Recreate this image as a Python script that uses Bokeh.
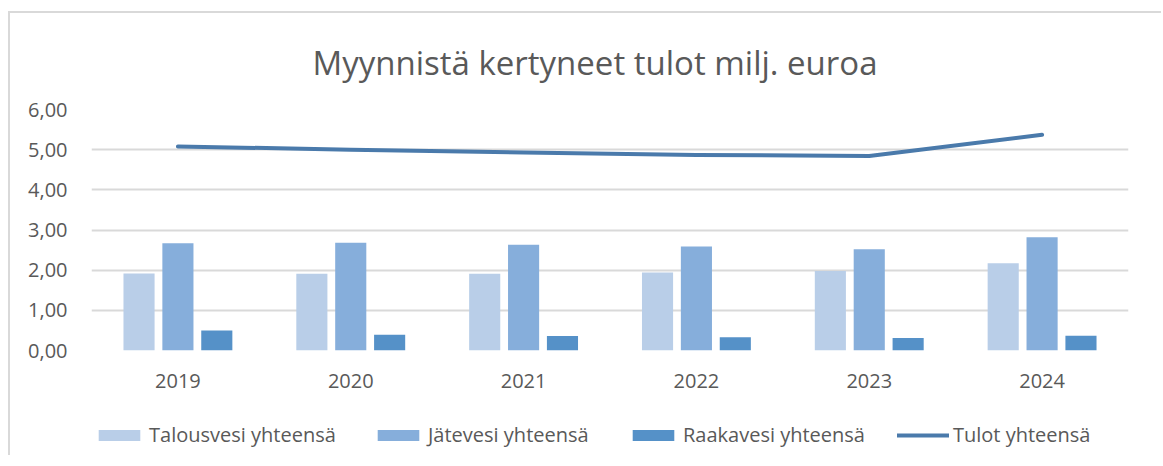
from bokeh.plotting import figure
from bokeh.layouts import column
from bokeh.models import (ColumnDataSource, FactorRange, Range1d, Legend, LegendItem,
                          CustomJSTickFormatter, FixedTicker)
from bokeh.transform import dodge
from bokeh.embed import file_html
from bokeh.resources import INLINE

years = ["2019", "2020", "2021", "2022", "2023", "2024"]
talousvesi = [1.92, 1.91, 1.91, 1.94, 1.98, 2.17]
jatevesi = [2.67, 2.68, 2.63, 2.59, 2.52, 2.82]
raakavesi = [0.50, 0.39, 0.36, 0.33, 0.31, 0.37]
tulot = [5.08, 5.00, 4.93, 4.87, 4.84, 5.37]
y_ticks = [0, 1, 2, 3, 4, 5, 6]

title_text = "Myynnistä kertyneet tulot milj. euroa"
names = ["Talousvesi yhteensä", "Jätevesi yhteensä", "Raakavesi yhteensä", "Tulot yhteensä"]
colors = ["#b9cee8", "#86aedb", "#5591c8", "#4a7aab"]
TXT = "#595959"
FONT = "Open Sans"
BORDER = "2px solid #d9d9d9"

src = ColumnDataSource(dict(x=years, t=talousvesi, j=jatevesi, r=raakavesi, tu=tulot))


def add_series(fig):
    bw = 0.18
    a = fig.vbar(x=dodge("x", -0.225, range=fig.x_range), top="t", width=bw, source=src,
                 fill_color=colors[0], line_color=None)
    b = fig.vbar(x=dodge("x", 0.0, range=fig.x_range), top="j", width=bw, source=src,
                 fill_color=colors[1], line_color=None)
    c = fig.vbar(x=dodge("x", 0.225, range=fig.x_range), top="r", width=bw, source=src,
                 fill_color=colors[2], line_color=None)
    d = fig.line(x="x", y="tu", source=src, line_color=colors[3], line_width=4,
                 line_cap="round", line_join="round")
    return [a, b, c, d]


p = figure(x_range=FactorRange(*years, range_padding=0), y_range=Range1d(0, 6),
           width=1153, height=389, output_backend="svg", toolbar_location=None,
           min_border_left=81, min_border_right=35, min_border_top=95, min_border_bottom=52)
p.styles = {"border-left": BORDER, "border-top": BORDER}
p.margin = (11, 0, 0, 8)
p.outline_line_color = None
p.border_fill_color = "white"

p.title.text = title_text
p.title.align = "left"
p.title.offset = 221
p.title.standoff = 49
p.title.text_font = FONT
p.title.text_font_size = "33px"
p.title.text_font_style = "normal"
p.title.text_color = TXT

add_series(p)

p.yaxis.ticker = FixedTicker(ticks=y_ticks)
p.yaxis.formatter = CustomJSTickFormatter(code="return tick.toFixed(2).replace('.', ',');")
for ax in (p.xaxis[0], p.yaxis[0]):
    ax.axis_line_color = None
    ax.major_tick_line_color = None
    ax.minor_tick_line_color = None
    ax.major_label_text_color = TXT
    ax.major_label_text_font = FONT
    ax.major_label_text_font_size = "20px"
p.yaxis.major_label_standoff = 18
p.xaxis.major_label_standoff = 17
p.xgrid.grid_line_color = None
p.ygrid.grid_line_color = "#d9d9d9"
p.ygrid.grid_line_width = 2

# legend strip: a separate figure whose view window shows none of the marks,
# so its legend swatches come from the same series without being clipped
lf = figure(width=1153, height=55, x_range=FactorRange(*years, range_padding=0),
            y_range=Range1d(100, 101), x_axis_type=None, y_axis_type=None,
            output_backend="svg", toolbar_location=None,
            min_border_left=81, min_border_right=35, min_border_top=0, min_border_bottom=0)
lf.styles = {"border-left": BORDER}
lf.margin = (0, 0, 0, 8)
lf.outline_line_color = None
lf.grid.visible = False
proxies = add_series(lf)

legend_x = [2, 281, 536, 806]
for rend, name, lx in zip(proxies, names, legend_x):
    lg = Legend(items=[LegendItem(label=name, renderers=[rend])], location=(lx, 7),
                orientation="horizontal", padding=0, margin=0, spacing=0,
                glyph_width=52, glyph_height=14, label_standoff=4,
                label_text_font=FONT, label_text_font_size="20px", label_text_color=TXT,
                border_line_color=None, background_fill_alpha=0)
    lf.add_layout(lg, "center")

layout = column(p, lf, spacing=0)
open("out.html", "w").write(file_html(layout, INLINE))
